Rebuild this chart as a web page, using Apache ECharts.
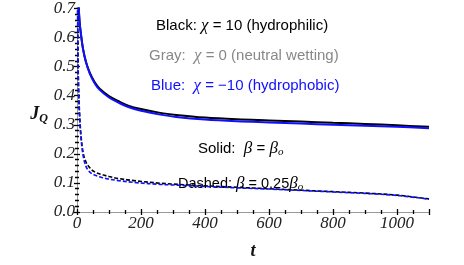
<!DOCTYPE html>
<html><head><meta charset="utf-8">
<script src="https://cdn.jsdelivr.net/npm/echarts@6/dist/echarts.min.js"></script>
<style>html,body{margin:0;padding:0;background:#fff}#c{width:464px;height:265px}</style>
</head><body><div id="c"></div>
<script>
const tSolid = [1, 3, 5, 8, 12, 19, 28, 40, 55, 71, 100, 130, 160, 200, 260, 310, 400, 500, 600, 700, 800, 900, 1000, 1100];
const blackSolid = [0.95, 0.80, 0.72, 0.655, 0.615, 0.56, 0.517, 0.479, 0.447, 0.424, 0.399, 0.381, 0.366, 0.354, 0.341, 0.334, 0.325, 0.319, 0.315, 0.311, 0.307, 0.303, 0.298, 0.293];
const blueSolid = [0.95, 0.80, 0.72, 0.655, 0.615, 0.56, 0.515, 0.476, 0.443, 0.42, 0.394, 0.376, 0.361, 0.348, 0.335, 0.327, 0.318, 0.312, 0.308, 0.304, 0.300, 0.297, 0.293, 0.288];
const tDashed = [1, 3, 5, 8, 12, 19, 28, 40, 55, 80, 100, 130, 185, 260, 300, 400, 500, 600, 700, 800, 900, 1000, 1100];
const blackDashed = [0.9, 0.55, 0.43, 0.34, 0.27, 0.205, 0.172, 0.152, 0.138, 0.128, 0.122, 0.115, 0.107, 0.099, 0.096, 0.090, 0.085, 0.080, 0.075, 0.070, 0.065, 0.058, 0.045];
const blueDashed = [0.9, 0.53, 0.41, 0.33, 0.26, 0.195, 0.157, 0.137, 0.127, 0.118, 0.113, 0.108, 0.101, 0.095, 0.093, 0.088, 0.083, 0.079, 0.074, 0.069, 0.064, 0.057, 0.044];
const xTicks = [0, 200, 400, 600, 800, 1000];
const yTicks = [0.0, 0.1, 0.2, 0.3, 0.4, 0.5, 0.6, 0.7];

const pair = (xs, ys) => xs.map((x, i) => [x, ys[i]]);
const serif = '"Liberation Serif","DejaVu Serif",serif';
const sans = '"Liberation Sans",Arial,sans-serif';
const lblStyle = {fontFamily: serif, fontStyle: 'italic', fontSize: 17, color: '#222'};
const tickStyle = {show: true, inside: true, length: 3, lineStyle: {color: '#000', width: 1.3}};
const minorStyle = {show: true, inside: true, length: 2, splitNumber: 4, lineStyle: {color: '#000', width: 1.3}};
const lineAx = {show: true, lineStyle: {color: '#999', width: 1}};

const chart = echarts.init(document.getElementById('c'));
chart.setOption({
  animation: false,
  grid: {left: 77, right: 35, top: 6, bottom: 42},
  xAxis: [
    {type: 'value', min: 0, max: 1100, interval: 200, position: 'bottom',
     axisLine: lineAx, axisTick: tickStyle, minorTick: minorStyle, splitLine: {show: false},
     axisLabel: Object.assign({margin: 3, showMaxLabel: false, formatter: v => xTicks.includes(v) ? String(v) : ''}, lblStyle),
     name: 't', nameLocation: 'middle', nameGap: 30,
     nameTextStyle: {fontFamily: serif, fontStyle: 'italic', fontWeight: 'bold', fontSize: 18, color: '#111'}},
    {type: 'value', min: 0, max: 1100, interval: 200, position: 'top',
     axisLine: lineAx, axisTick: tickStyle, minorTick: minorStyle, splitLine: {show: false}, axisLabel: {show: false}}
  ],
  yAxis: [
    {type: 'value', min: 0, max: 0.7, interval: 0.1, position: 'left',
     axisLine: lineAx, axisTick: tickStyle, minorTick: Object.assign({}, minorStyle, {splitNumber: 5}), splitLine: {show: false},
     axisLabel: Object.assign({margin: 2, formatter: v => yTicks.some(t => Math.abs(t - v) < 1e-9) ? v.toFixed(1) : ''}, lblStyle),
     name: '{j|J}{q|Q}', nameLocation: 'middle', nameGap: 28, nameRotate: 0,
     nameTextStyle: {align: 'right', padding: [8, 0, 0, 0], rich: {
       j: {fontFamily: serif, fontStyle: 'italic', fontWeight: 'bold', fontSize: 18, color: '#111'},
       q: {fontFamily: serif, fontStyle: 'italic', fontWeight: 'bold', fontSize: 12, color: '#111', padding: [9, 0, 0, 0]}}}},
    {type: 'value', min: 0, max: 0.7, interval: 0.1, position: 'right',
     axisLine: lineAx, axisTick: tickStyle, minorTick: Object.assign({}, minorStyle, {splitNumber: 5}), splitLine: {show: false}, axisLabel: {show: false}}
  ],
  series: [
    {name: 'black solid', type: 'line', data: pair(tSolid, blackSolid), smooth: 0.35, showSymbol: false, clip: true,
     lineStyle: {color: '#000', width: 2}},
    {name: 'blue solid', type: 'line', data: pair(tSolid, blueSolid), smooth: 0.35, showSymbol: false, clip: true,
     lineStyle: {color: '#1010ff', width: 2}},
    {name: 'black dashed', type: 'line', data: pair(tDashed, blackDashed), smooth: 0.35, showSymbol: false, clip: true,
     lineStyle: {color: '#000', width: 1.6, type: [4, 2]}},
    {name: 'blue dashed', type: 'line', data: pair(tDashed, blueDashed), smooth: 0.35, showSymbol: false, clip: true,
     lineStyle: {color: '#1010ff', width: 1.6, type: [4, 2]}}
  ],
  graphic: [
    {type: 'text', left: 156, top: 17, style: {text: 'Black: {g|χ} = 10 (hydrophilic)', fill: '#000',
      font: '15px ' + sans, rich: {g: {fontFamily: serif, fontStyle: 'italic', fontSize: 17, fill: '#000'}}}},
    {type: 'text', left: 149, top: 47, style: {text: 'Gray:  {g|χ} = 0 (neutral wetting)', fill: '#888',
      font: '15px ' + sans, rich: {g: {fontFamily: serif, fontStyle: 'italic', fontSize: 17, fill: '#888'}}}},
    {type: 'text', left: 151, top: 77, style: {text: 'Blue:  {g|χ} = \u221210 (hydrophobic)', fill: '#1010ff',
      font: '15px ' + sans, rich: {g: {fontFamily: serif, fontStyle: 'italic', fontSize: 17, fill: '#1010ff'}}}},
    {type: 'text', left: 198, top: 140, style: {text: 'Solid:  {g|β} = {g|β}{s|o}', fill: '#000',
      font: '15px ' + sans, rich: {g: {fontFamily: serif, fontStyle: 'italic', fontSize: 17, fill: '#000'},
        s: {fontFamily: serif, fontStyle: 'italic', fontSize: 11, fill: '#000', padding: [8, 0, 0, 0]}}}},
    {type: 'text', left: 178, top: 175, style: {text: 'Dashed: {g|β} = 0.25{g|β}{s|o}', fill: '#000',
      font: '14.5px ' + sans, rich: {g: {fontFamily: serif, fontStyle: 'italic', fontSize: 17, fill: '#000'},
        s: {fontFamily: serif, fontStyle: 'italic', fontSize: 11, fill: '#000', padding: [8, 0, 0, 0]}}}}
  ]
});
</script></body></html>
